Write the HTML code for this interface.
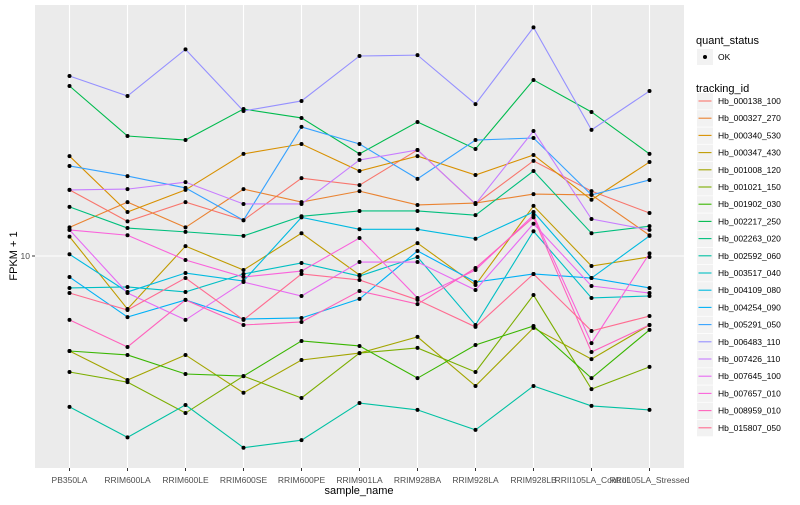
<!DOCTYPE html>
<html><head><meta charset="utf-8"><style>
body{margin:0;background:#fff;width:800px;height:500px;overflow:hidden}
svg{font-family:"Liberation Sans",sans-serif}
</style></head><body>
<svg id="c" width="800" height="500"></svg>
<script>
const categories=["PB350LA","RRIM600LA","RRIM600LE","RRIM600SE","RRIM600PE","RRIM901LA","RRIM928BA","RRIM928LA","RRIM928LB","RRII105LA_Control","RRII105LA_Stressed"];
const ids=["Hb_000138_100","Hb_000327_270","Hb_000340_530","Hb_000347_430","Hb_001008_120","Hb_001021_150","Hb_001902_030","Hb_002217_250","Hb_002263_020","Hb_002592_060","Hb_003517_040","Hb_004109_080","Hb_004254_090","Hb_005291_050","Hb_006483_110","Hb_007426_110","Hb_007645_100","Hb_007657_010","Hb_008959_010","Hb_015807_050"];
const colors=["#F8766D","#EA8331","#D89000","#C09B00","#A3A500","#7CAE00","#39B600","#00BB4E","#00BF7D","#00C1A3","#00BFC4","#00BAE0","#00B0F6","#35A2FF","#9590FF","#C77CFF","#E76BF3","#FA62DB","#FF62BC","#FF6C91"];
const s01=[21.4,14.9,18.6,15.1,24.5,22.6,33.9,18.2,29.9,21.1,16.4];
const s02=[13.9,18.6,13.9,21.6,18.6,21.1,18.0,18.4,20.4,20.2,12.7];
const s03=[31.6,16.6,21.4,32.4,36.3,26.6,31.6,25.4,32.0,19.1,29.5];
const s04=[12.5,5.43,11.2,8.51,13.0,8.04,11.6,7.16,17.8,8.91,9.89];
const s05=[3.35,2.40,3.20,2.07,3.02,3.27,3.94,2.24,4.37,3.05,4.52];
const s06=[2.63,2.34,1.64,2.51,1.95,3.27,3.47,2.63,6.38,2.16,2.79];
const s07=[3.35,3.20,2.57,2.51,3.76,3.55,2.45,3.59,4.47,2.45,4.27];
const s08=[70.8,39.8,38.0,54.3,49.0,32.4,46.8,34.3,75.9,52.5,32.4];
const s09=[17.6,13.8,13.2,12.6,15.8,16.8,16.8,16.0,26.6,13.0,14.1];
const s10=[1.76,1.24,1.80,1.10,1.20,1.84,1.70,1.35,2.24,1.78,1.70];
const s11=[6.92,7.00,6.61,8.13,9.23,7.94,9.89,4.52,13.3,6.17,6.31];
const s12=[10.2,6.61,8.22,7.50,15.6,13.6,13.6,12.2,16.6,7.76,12.6];
const s13=[7.85,4.95,6.03,4.84,4.90,6.10,10.6,7.41,8.13,7.76,6.92];
const s14=[28.2,25.1,21.9,15.1,44.2,36.3,24.3,38.0,38.9,20.2,24.0];
const s15=[79.4,63.1,108,53.1,59.6,100,101,57.5,139,42.7,66.8];
const s16=[21.4,21.6,23.4,18.2,18.2,30.2,33.9,18.2,42.2,15.3,13.5];
const s17=[13.5,6.53,4.79,7.41,6.31,9.33,9.33,6.76,14.5,7.08,6.53];
const s18=[13.5,12.7,9.55,7.85,8.41,12.3,6.17,8.51,16.0,3.67,10.3];
const s19=[4.79,3.51,6.03,4.52,4.68,6.68,5.75,8.71,15.6,3.31,4.52];
const s20=[6.53,5.37,7.76,4.79,8.13,7.59,6.03,4.42,8.13,4.22,5.01];
const series=[s01,s02,s03,s04,s05,s06,s07,s08,s09,s10,s11,s12,s13,s14,s15,s16,s17,s18,s19,s20];
const yTicks=[10];

const NS="http://www.w3.org/2000/svg";
const svg=document.getElementById('c');
function mk(t,a,p){const e=document.createElementNS(NS,t);for(const k in a)e.setAttribute(k,a[k]);(p||svg).appendChild(e);return e;}
const PL=35,PR=684,PT=5,PB=468;
function x(i){return 69.5+i*58;}
function y(v){return 256-200*Math.log10(v/10);}

const panel=mk('rect',{x:PL,y:PT,width:PR-PL,height:PB-PT,fill:'#EBEBEB'});


categories.forEach((c,i)=>{
  const g=mk('line',{x1:x(i),x2:x(i),y1:PT,y2:PB,stroke:'#fff','stroke-width':1.1});
  
  
  const tk=mk('line',{x1:x(i),x2:x(i),y1:PB,y2:PB+3,stroke:'#333'});
  
  
  const t=mk('text',{x:x(i),y:PB+15,'text-anchor':'middle','font-size':8.5,fill:'#4d4d4d'});
  t.textContent=c;
  
  
});
yTicks.forEach(v=>{
  const g=mk('line',{x1:PL,x2:PR,y1:y(v),y2:y(v),stroke:'#fff','stroke-width':1.1});
  
  
  const tk=mk('line',{x1:PL-3,x2:PL,y1:y(v),y2:y(v),stroke:'#333'});
  
  
  const t=mk('text',{x:PL-5,y:y(v)+3,'text-anchor':'end','font-size':8.5,fill:'#4d4d4d'});
  t.textContent=String(v);
  
  
});
series.forEach((s,k)=>{
  const p=mk('polyline',{points:s.map((v,i)=>x(i)+','+y(v)).join(' '),fill:'none',stroke:colors[k],'stroke-width':1.1});
  
  
});
series.forEach((s,k)=>{
  s.forEach((v,i)=>{
    const c=mk('circle',{cx:x(i),cy:y(v),r:2,fill:'#000'});
    
    
  });
});
const xt=mk('text',{x:359,y:494,'text-anchor':'middle','font-size':11,fill:'#000'});
xt.textContent='sample_name';


const yt=mk('text',{x:0,y:0,'text-anchor':'middle','font-size':11,fill:'#000',transform:'translate(17,256) rotate(-90)'});
yt.textContent='FPKM + 1';



const qt=mk('text',{x:696,y:44,'font-size':11,fill:'#000'});
qt.textContent='quant_status';


const qk=mk('rect',{x:697,y:49,width:16,height:16,fill:'#F2F2F2'});


const qd=mk('circle',{cx:705,cy:57,r:2,fill:'#000'});


const qo=mk('text',{x:718,y:60,'font-size':8.5,fill:'#000'});
qo.textContent='OK';


const tt=mk('text',{x:696,y:92,'font-size':11,fill:'#000'});
tt.textContent='tracking_id';


ids.forEach((id,k)=>{
  const yy=101+k*17.2;
  const r=mk('rect',{x:697,y:yy-8,width:16,height:16.5,fill:'#F2F2F2'});
  
  
  const l=mk('line',{x1:698.5,x2:711.5,y1:yy,y2:yy,stroke:colors[k],'stroke-width':1.1});
  
  
  const t=mk('text',{x:718,y:yy+3,'font-size':8.5,fill:'#000'});
  t.textContent=id;
  
  
});
</script>
</body></html>
